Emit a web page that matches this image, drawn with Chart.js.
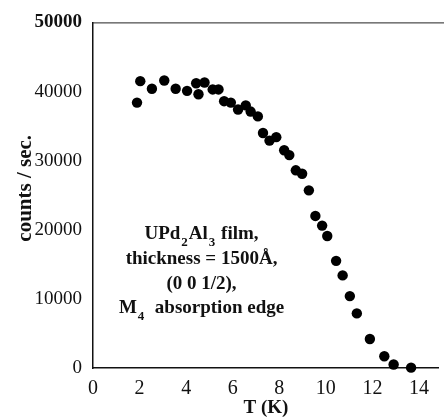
<!DOCTYPE html>
<html>
<head>
<meta charset="utf-8">
<script src="https://cdn.jsdelivr.net/npm/chart.js@4"></script>
<style>
  html, body { margin: 0; padding: 0; background: #fff; }
  #wrap { width: 444px; height: 418px; }
</style>
</head>
<body>
<div id="wrap"><canvas id="chart"></canvas></div>
<script>
// ---- data ----
const tempK = [1.89, 2.03, 2.53, 3.06, 3.55, 4.04, 4.43, 4.53, 4.79, 5.14, 5.39, 5.63,
  5.92, 6.23, 6.56, 6.77, 7.08, 7.30, 7.58, 7.87, 8.21, 8.43, 8.71, 8.98,
  9.27, 9.55, 9.84, 10.06, 10.44, 10.72, 11.03, 11.33, 11.89, 12.51, 12.91, 13.66];
const counts = [38400, 41500, 40400, 41600, 40400, 40100, 41200, 39600, 41300, 40300, 40300, 38600,
  38400, 37400, 38000, 37100, 36400, 34000, 32900, 33400, 31500, 30800, 28600, 28100,
  25700, 22000, 20600, 19100, 15500, 13400, 10400, 7900, 4200, 1700, 500, 50];

const xTicks = [0, 2, 4, 6, 8, 10, 12, 14];
const yTicks = [0, 10000, 20000, 30000, 40000, 50000];
const yTitle = 'counts / sec.';
const yTitleAt = 26000; // centre of the y title, data units

// annotation text, one entry per line; sub = subscript piece
const noteLines = [
  [{ t: 'UPd' }, { t: '2', sub: true }, { t: 'Al' }, { t: '3', sub: true }, { t: ' film,' }],
  [{ t: 'thickness = 1500Å,' }],
  [{ t: '(0 0 1/2),' }],
  [{ t: 'M' }, { t: '4', sub: true }, { t: '  absorption edge' }],
];
// anchor of the note block in data units (centre x, baseline y per line)
const noteX = 4.66;
const noteY = [18700, 15000, 11400, 8000];

const SERIF = '"Liberation Serif", "DejaVu Serif", serif';

// draws the cropped top frame line, the y title and the text block
const notePlugin = {
  id: 'note',
  afterDraw(chart) {
    const { ctx, chartArea, scales } = chart;
    ctx.save();
    // top frame line
    ctx.strokeStyle = '#222';
    ctx.lineWidth = 1;
    ctx.beginPath();
    ctx.moveTo(chartArea.left, chartArea.top + 0.5);
    ctx.lineTo(chart.width, chartArea.top + 0.5);
    ctx.stroke();

    // y axis title, a little above the middle like the original
    ctx.fillStyle = '#111';
    ctx.font = 'bold 21px ' + SERIF;
    ctx.textAlign = 'center';
    ctx.textBaseline = 'middle';
    ctx.translate(26, scales.y.getPixelForValue(yTitleAt));
    ctx.rotate(-Math.PI / 2);
    ctx.fillText(yTitle, 0, 0);
    ctx.setTransform(1, 0, 0, 1, 0, 0);

    // note text
    const main = 'bold 19px ' + SERIF;
    const small = 'bold 13px ' + SERIF;
    ctx.textBaseline = 'alphabetic';
    ctx.textAlign = 'left';
    const cx = scales.x.getPixelForValue(noteX);
    noteLines.forEach((line, i) => {
      const y = scales.y.getPixelForValue(noteY[i]);
      let w = 0;
      line.forEach(p => { ctx.font = p.sub ? small : main; w += ctx.measureText(p.t).width + (p.sub ? 2 : 0); });
      let x = cx - w / 2;
      line.forEach(p => {
        ctx.font = p.sub ? small : main;
        if (p.sub) x += 1;
        ctx.fillText(p.t, x, p.sub ? y + 7 : y);
        x += ctx.measureText(p.t).width + (p.sub ? 1 : 0);
      });
    });
    ctx.restore();
  }
};

new Chart(document.getElementById('chart'), {
  type: 'scatter',
  data: {
    datasets: [{
      data: tempK.map((t, i) => ({ x: t, y: counts[i] })),
      pointRadius: 5.2,
      pointHoverRadius: 5.2,
      pointBackgroundColor: '#000',
      pointBorderWidth: 0,
      clip: false,
    }]
  },
  options: {
    responsive: true,
    maintainAspectRatio: false,
    animation: false,
    events: [],
    layout: { padding: { top: 16, right: 0, left: 0, bottom: 0 } },
    plugins: { legend: { display: false }, tooltip: { enabled: false } },
    scales: {
      x: {
        type: 'linear',
        min: 0,
        max: 14.85,
        afterFit: s => { s.height = 50; },
        afterBuildTicks: s => { s.ticks = xTicks.map(v => ({ value: v })); },
        ticks: {
          includeBounds: false,
          padding: 9,
          color: '#111',
          font: { family: SERIF, size: 20 },
          callback: v => String(v),
        },
        grid: { display: false, drawTicks: false },
        border: { display: true, color: '#111', width: 1.5 },
        title: {
          display: true,
          text: 'T (K)',
          color: '#111',
          font: { family: SERIF, size: 19, weight: 'bold', lineHeight: 1.0 },
          padding: { top: 0, bottom: 0 },
        },
      },
      y: {
        min: 0,
        max: 50000,
        afterFit: s => { s.width = 93; },
        afterBuildTicks: s => { s.ticks = yTicks.map(v => ({ value: v })); },
        ticks: {
          padding: 11,
          color: '#111',
          font: ctx => ({ family: SERIF, size: 19, weight: ctx.tick && ctx.tick.value === 50000 ? 'bold' : 'normal' }),
          callback: v => String(v),
        },
        grid: { display: false, drawTicks: false },
        border: { display: true, color: '#111', width: 1.5 },
        title: { display: false },
      }
    }
  },
  plugins: [notePlugin]
});
</script>
</body>
</html>
